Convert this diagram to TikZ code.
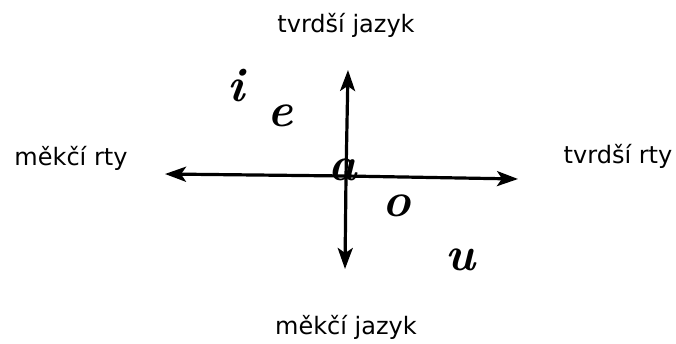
\documentclass[tikz,border=0pt]{standalone}
\usepackage{fontspec}
\setmainfont{DejaVu Sans}
\newfontfamily\handfont{Latin Modern Roman}
\usetikzlibrary{arrows.meta}
\begin{document}
\begin{tikzpicture}[x=1pt,y=-1pt,
  lbl/.style={font=\fontsize{24}{28}\selectfont, inner sep=0pt, anchor=center},
  hand/.style={font=\handfont\fontsize{48}{48}\selectfont\bfseries\itshape, inner sep=0pt, anchor=center},
  axis/.style={line width=3.2pt, -{Stealth[length=21pt,width=15pt,inset=5pt]}}]
\useasboundingbox[fill=white] (0,0) rectangle (676,343);
\node[lbl] (top) at (346,25) {tvrdší jazyk};
\node[lbl] (bottom) at (346,327) {měkčí jazyk};
\node[lbl] (left) at (71,158) {měkčí rty};
\node[lbl] (right) at (618,156) {tvrdší rty};
\coordinate (c) at (346,176);
\coordinate (eL) at (165,174);
\coordinate (eR) at (518,179);
\coordinate (eT) at (348,70);
\coordinate (eB) at (345,269);
\draw[axis] (c) -- (eL);
\draw[axis] (c) -- (eR);
\draw[axis] (c) -- (eT);
\draw[axis] (c) -- (eB);
\node[hand] (a) at (343,170) {a};
\node[hand] (i) at (236,86) {i};
\node[hand] (e) at (280,116) {e};
\node[hand] (o) at (397,206) {o};
\node[hand] (u) at (460,260) {u};
\end{tikzpicture}
\end{document}
